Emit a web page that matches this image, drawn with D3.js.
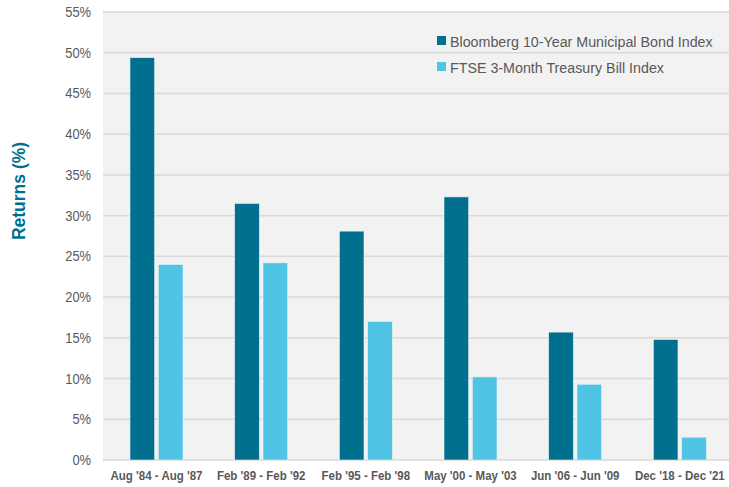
<!DOCTYPE html>
<html>
<head>
<meta charset="utf-8">
<script src="https://cdn.jsdelivr.net/npm/d3@7"></script>
<style>
  body { margin: 0; background: #fff; }
  text { font-family: "Liberation Sans", Arial, sans-serif; }
</style>
</head>
<body>
<svg id="chart"></svg>
<script>
/* Data */

var PERIODS = ["Aug '84 - Aug '87", "Feb '89 - Feb '92", "Feb '95 - Feb '98",
               "May '00 - May '03", "Jun '06 - Jun '09", "Dec '18 - Dec '21"];
var SERIES = ["Bloomberg 10-Year Municipal Bond Index",
              "FTSE 3-Month Treasury Bill Index"];
var MUNI_RETURNS = [49.4, 31.5, 28.1, 32.3, 15.7, 14.8];
var TBILL_RETURNS = [24.0, 24.2, 17.0, 10.2, 9.3, 2.8];
var Y_TICKS = [0, 5, 10, 15, 20, 25, 30, 35, 40, 45, 50, 55];

/* Measures */

var W = 729,
    H = 487;

var MARGIN = { left: 103, top: 12, right: -2, bottom: 27 };
var COLORS = ["#00708e", "#4fc4e5"];
var BG = "#f2f2f2",
    GRID = "#d9d9d9",
    LABEL = "#595959",
    TITLE = "#00708e";
var CONDENSE = 0.92;

var svg = d3.select("#chart").attr("width", W).attr("height", H);

var plotW = W - MARGIN.left - MARGIN.right,
    plotH = H - MARGIN.top - MARGIN.bottom;

var x0 = d3.scaleBand().domain(PERIODS).range([0, plotW]).paddingInner(0).paddingOuter(0);
var x1 = d3.scaleBand().domain(SERIES).range([27, 80]).paddingInner(0.13);
var y = d3.scaleLinear().domain([0, 55]).range([plotH, 0]);

// the original font runs a bit narrower than Liberation Sans
function condense(sel) {
  sel.each(function() {
    var len = this.getComputedTextLength();
    d3.select(this)
      .attr("textLength", len * CONDENSE)
      .attr("lengthAdjust", "spacingAndGlyphs");
  });
}

var g = svg.append("g").attr("transform", "translate(" + MARGIN.left + "," + MARGIN.top + ")");

g.append("rect")
  .attr("width", plotW).attr("height", plotH)
  .attr("fill", BG);

// grid
g.selectAll("line.grid")
  .data(Y_TICKS)
  .enter().append("line")
  .attr("class", "grid")
  .attr("x1", 0).attr("x2", plotW)
  .attr("y1", function(d) { return y(d); })
  .attr("y2", function(d) { return y(d); })
  .attr("stroke", GRID)
  .attr("stroke-width", 1.5);

// y axis labels
var yAxis = d3.axisLeft(y).tickValues(Y_TICKS).tickSize(0).tickPadding(12)
  .tickFormat(function(d) { return d + "%"; });
var ya = g.append("g").call(yAxis);
ya.select(".domain").remove();
ya.selectAll("text")
  .attr("fill", LABEL)
  .style("font-size", "14px")
  .style("font-family", "'Liberation Sans', Arial, sans-serif")
  .call(condense);

// bars
var rows = PERIODS.map(function(p, i) {
  return [{ period: p, series: SERIES[0], value: MUNI_RETURNS[i], c: 0 },
          { period: p, series: SERIES[1], value: TBILL_RETURNS[i], c: 1 }];
});

g.selectAll("g.group")
  .data(rows)
  .enter().append("g")
  .attr("class", "group")
  .attr("transform", function(d) { return "translate(" + x0(d[0].period) + ",0)"; })
  .selectAll("rect")
  .data(function(d) { return d; })
  .enter().append("rect")
  .attr("x", function(d) { return x1(d.series); })
  .attr("width", x1.bandwidth())
  .attr("y", function(d) { return y(d.value); })
  .attr("height", function(d) { return plotH - y(d.value); })
  .attr("fill", function(d) { return COLORS[d.c]; })
  .attr("stroke", "#e8f1f4")
  .attr("stroke-width", 0.6);

// x axis labels
var xAxis = d3.axisBottom(x0).tickSize(0).tickPadding(11)
  .tickFormat(function(d) { return d; });
var xa = g.append("g").attr("transform", "translate(0," + plotH + ")").call(xAxis);
xa.select(".domain").remove();
xa.selectAll(".tick")
  .attr("transform", function(d) {
    return "translate(" + (x0(d) + (x1(SERIES[0]) + x1(SERIES[1]) + x1.bandwidth()) / 2) + ",0)";
  });
xa.selectAll("text")
  .attr("fill", LABEL)
  .style("font-size", "12.5px")
  .style("font-weight", "bold")
  .style("font-family", "'Liberation Sans', Arial, sans-serif")
  .call(condense);

// y title
svg.append("text")
  .attr("transform", "translate(25,191) rotate(-90)")
  .attr("text-anchor", "middle")
  .attr("fill", TITLE)
  .style("font-size", "17.5px")
  .style("font-weight", "bold")
  .text("Returns (%)");

// legend
var legend = svg.append("g").attr("transform", "translate(437,36)");
var items = legend.selectAll("g")
  .data(SERIES)
  .enter().append("g")
  .attr("transform", function(d, i) { return "translate(0," + i * 26 + ")"; });
items.append("rect")
  .attr("width", 9).attr("height", 9)
  .attr("fill", function(d, i) { return COLORS[i]; });
items.append("text")
  .attr("x", 13).attr("y", 11)
  .attr("fill", LABEL)
  .style("font-size", "15.5px")
  .text(function(d) { return d; })
  .call(condense);
</script>
</body>
</html>
